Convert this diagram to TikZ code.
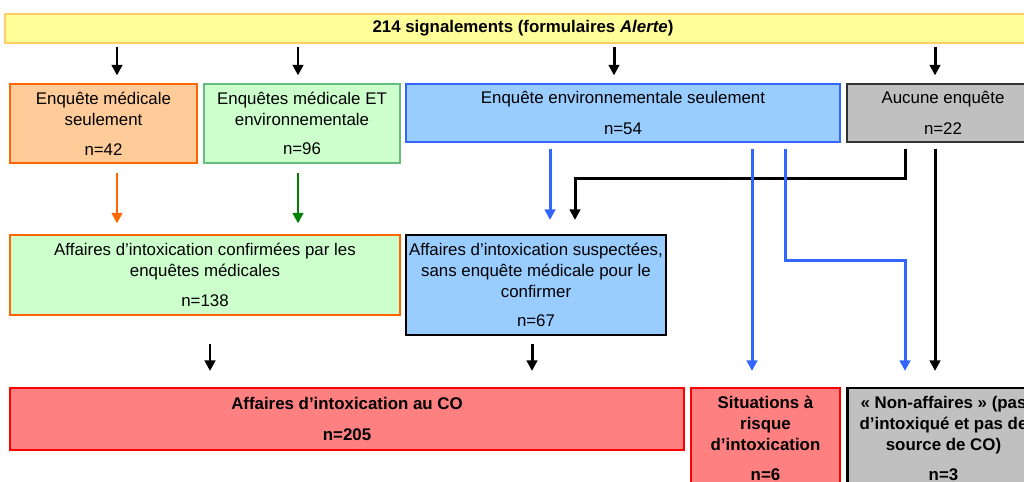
\documentclass[tikz,border=0pt]{standalone}
\usepackage{fontspec}
\setmainfont{Liberation Sans}
\usepackage{xcolor}
\usetikzlibrary{arrows.meta}
\definecolor{jaune}{HTML}{FFFF99}
\definecolor{jauneb}{HTML}{FFCC66}
\definecolor{orclair}{HTML}{FFCC99}
\definecolor{orfonce}{HTML}{FF6600}
\definecolor{vertclair}{HTML}{CCFFCC}
\definecolor{vertb}{HTML}{66BB80}
\definecolor{vertfl}{HTML}{008000}
\definecolor{bleuclair}{HTML}{99CCFF}
\definecolor{bleub}{HTML}{3366FF}
\definecolor{gris}{HTML}{C0C0C0}
\definecolor{grisb}{HTML}{333333}
\definecolor{rouge}{HTML}{FF8080}
\newcommand{\fs}{\fontsize{9.6}{11.9}\selectfont}

\begin{document}
\begin{tikzpicture}[x=0.02cm,y=-0.02cm,
	boite/.style={draw, inner sep=0pt, align=center, font=\fs, line width=0.7pt},
	taille/.style 2 args={minimum width=#1*0.02cm, minimum height=#2*0.02cm},
	fl/.style={-{Triangle[length=6pt,width=6pt]}, line width=1.7pt}]
	\useasboundingbox (0,0) rectangle (1024,481);
	\clip (0,0) rectangle (1024,481);
	% boites
	\node[boite, taille={1036}{29}, fill=jaune, draw=jauneb, font=\fs\bfseries] (alerte) at (523,28.5) {214 signalements (formulaires \textit{Alerte})};
	\node[boite, taille={187}{79}, fill=orclair, draw=orfonce] (medic) at (103.5,123.5) {Enquête médicale\\seulement\\[5pt]n=42};
	\node[boite, taille={196}{79}, fill=vertclair, draw=vertb] (mixte) at (302,123.5) {Enquêtes médicale ET\\environnementale\\[5pt]n=96};
	\node[boite, taille={434}{58}, fill=bleuclair, draw=bleub] (envir) at (623,113) {Enquête environnementale seulement\\[6pt]n=54};
	\node[boite, taille={192}{58}, fill=gris, draw=grisb] (aucune) at (943,113) {Aucune enquête\\[6pt]n=22};
	\node[boite, taille={390}{80}, fill=vertclair, draw=orfonce] (confirm) at (205,275) {Affaires d’intoxication confirmées par les\\enquêtes médicales\\[5pt]n=138};
	\node[boite, taille={260}{100}, fill=bleuclair, draw=black, line width=1.2pt] (suspect) at (536,285) {Affaires d’intoxication suspectées,\\sans enquête médicale pour le\\confirmer\\[5pt]n=67};
	\node[boite, taille={674}{62}, fill=rouge, draw=red, line width=1.2pt, font=\fs\bfseries] (affco) at (347,419) {Affaires d’intoxication au CO\\[6pt]n=205};
	\node[boite, taille={149}{101}, fill=rouge, draw=red, line width=1.2pt, font=\fs\bfseries] (risque) at (765.5,438.5) {Situations à\\risque\\d’intoxication\\[5pt]n=6};
	\node[boite, taille={192}{101}, fill=gris, draw=black, line width=1.2pt, font=\fs\bfseries] (nonaff) at (943.5,438.5) {«~Non-affaires~» (pas\\d’intoxiqué et pas de\\source de CO)\\[5pt]n=3};
	% fleches du haut
	\draw[fl, shorten <=0.06cm, shorten >=0.16cm] (alerte.south -| 117,0) -- (medic.north -| 117,0);
	\draw[fl, shorten <=0.06cm, shorten >=0.16cm] (alerte.south -| 298,0) -- (mixte.north -| 298,0);
	\draw[fl, shorten <=0.06cm, shorten >=0.16cm] (alerte.south -| 614,0) -- (envir.north -| 614,0);
	\draw[fl, shorten <=0.06cm, shorten >=0.16cm] (alerte.south -| 935,0) -- (aucune.north -| 935,0);
	% vers les affaires
	\draw[fl, orfonce, shorten <=0.18cm, shorten >=0.22cm] (medic.south -| 117,0) -- (confirm.north -| 117,0);
	\draw[fl, vertfl, shorten <=0.18cm, shorten >=0.22cm] (mixte.south -| 298,0) -- (confirm.north -| 298,0);
	\draw[fl, shorten <=0.12cm] (aucune.south -| 905,0) |- (575,178) -- ([yshift=0.28cm]suspect.north -| 575,0);
	\draw[fl, shorten <=0.12cm] (aucune.south -| 935,0) -- ([yshift=0.32cm]nonaff.north -| 935,0);
	\draw[fl, bleub, shorten <=0.12cm, shorten >=0.28cm] (envir.south -| 550,0) -- (suspect.north -| 550,0);
	\draw[fl, bleub, shorten <=0.12cm, shorten >=0.32cm] (envir.south -| 752,0) -- (risque.north -| 752,0);
	\draw[fl, bleub, shorten <=0.12cm] (envir.south -| 785,0) |- (905,260) -- ([yshift=0.32cm]nonaff.north -| 905,0);
	% fleches du bas
	\draw[fl, shorten <=0.56cm, shorten >=0.32cm] (confirm.south -| 210,0) -- (affco.north -| 210,0);
	\draw[fl, shorten <=0.16cm, shorten >=0.32cm] (suspect.south -| 532,0) -- (affco.north -| 532,0);
\end{tikzpicture}
\end{document}
